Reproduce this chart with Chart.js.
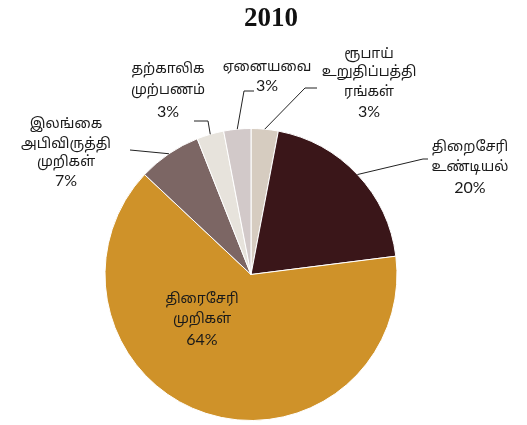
<!DOCTYPE html>
<html lang="ta">
<head>
  <meta charset="UTF-8">
  <title>2010</title>
  <script src="https://cdn.jsdelivr.net/npm/chart.js"></script>
  <style>
    html, body { margin: 0; padding: 0; background: #fff; }
    #wrap { width: 527px; height: 425px; }
  </style>
</head>
<body>
  <div id="wrap"><canvas id="debtChart" width="527" height="425"></canvas></div>

  <script>
    // Composition of debt, 2010 (share in %)
    const categories = [
      ['ரூபாய்', 'உறுதிப்பத்தி', 'ரங்கள்'],
      ['திறைசேரி', 'உண்டியல்'],
      ['திரைசேரி', 'முறிகள்'],
      ['இலங்கை', 'அபிவிருத்தி', 'முறிகள்'],
      ['தற்காலிக', 'முற்பணம்'],
      ['ஏனையவை']
    ];
    const shares = [3, 20, 64, 7, 3, 3];
    const sliceColors = ['#d6ccc0', '#3a1619', '#cf9229', '#7c6664', '#e7e3dc', '#d2c9c9'];

    // label placement per slice: text centre, line spacing, leader path (text side -> elbow)
    const labelSpots = [
      { x: 369, y: 55, gaps: [18, 20, 19], leader: [[317, 88], [305, 88]] },
      { x: 470, y: 148, gaps: [20, 20], leader: [[428, 159], [423, 159]] },
      { x: 202, y: 300, gaps: [20, 20], inside: true },
      { x: 66, y: 125, gaps: [20, 18, 18], leader: [[130, 150]] },
      { x: 168, y: 70, gaps: [21, 21], leader: [[194, 121], [208, 121]] },
      { x: 267, y: 68, gaps: [18], leader: [[254, 91], [244, 91]] }
    ];

    const tamilFont = '14px "Noto Sans Tamil", "Lohit Tamil", "Latha", sans-serif';
    const pctFont = '16px Lato, "Noto Sans", sans-serif';

    const labelPlugin = {
      id: 'sliceLabels',
      afterDraw(chart) {
        const ctx = chart.ctx;
        ctx.save();
        // title
        ctx.fillStyle = '#111';
        ctx.font = 'bold 27px "Liberation Serif", "DejaVu Serif", serif';
        ctx.textAlign = 'center';
        ctx.textBaseline = 'middle';
        ctx.fillText('2010', 271, 19);

        const arcs = chart.getDatasetMeta(0).data;
        arcs.forEach((arc, i) => {
          const spot = labelSpots[i];
          const p = arc.getProps(['x', 'y', 'startAngle', 'endAngle', 'outerRadius'], true);
          const mid = (p.startAngle + p.endAngle) / 2;
          const ex = p.x + Math.cos(mid) * p.outerRadius;
          const ey = p.y + Math.sin(mid) * p.outerRadius;

          if (spot.leader) {
            ctx.strokeStyle = '#222';
            ctx.lineWidth = 1;
            ctx.beginPath();
            spot.leader.forEach((pt, k) => k ? ctx.lineTo(pt[0], pt[1]) : ctx.moveTo(pt[0], pt[1]));
            ctx.lineTo(ex, ey);
            ctx.stroke();
          }

          ctx.fillStyle = '#1a1a1a';
          let y = spot.y;
          const lines = categories[i].concat([shares[i] + '%']);
          lines.forEach((txt, k) => {
            ctx.font = k === lines.length - 1 ? pctFont : tamilFont;
            ctx.fillText(txt, spot.x, y);
            y += spot.gaps[k] || 0;
          });
        });
        ctx.restore();
      }
    };

    new Chart(document.getElementById('debtChart'), {
      type: 'pie',
      data: {
        labels: categories.map(c => c.join('')),
        datasets: [{
          data: shares,
          backgroundColor: sliceColors,
          borderColor: '#ffffff',
          borderWidth: 1
        }]
      },
      options: {
        responsive: false,
        animation: false,
        layout: { padding: { top: 128, bottom: 4, left: 0, right: 25 } },
        plugins: {
          legend: { display: false },
          tooltip: { enabled: false },
          title: { display: false }
        }
      },
      plugins: [labelPlugin]
    });
  </script>
</body>
</html>
